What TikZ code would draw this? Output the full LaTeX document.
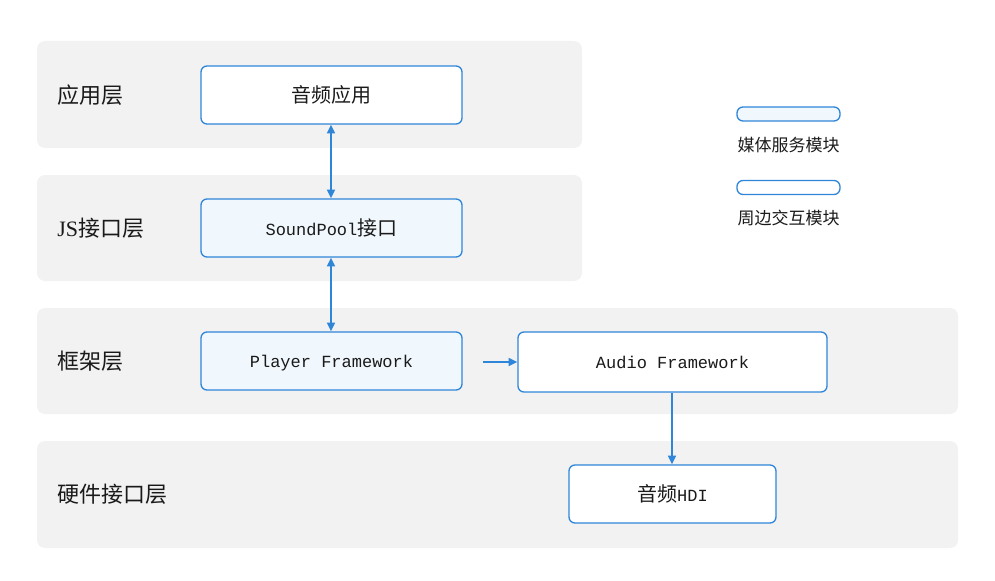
\documentclass[tikz,border=0pt]{standalone}
\usepackage{fontspec}
\setmainfont{Liberation Serif}
\newfontfamily\cjk{Noto Sans CJK SC}
\newfontfamily\mono{Liberation Mono}
\usetikzlibrary{arrows.meta}
\definecolor{bandgray}{HTML}{F2F2F2}
\definecolor{lineblue}{HTML}{2F86D9}
\definecolor{paleblue}{HTML}{F0F7FD}
\definecolor{txt}{HTML}{1A1A1A}
\newcommand{\nodetxt}[2]{{\fontsize{12.75}{15}\mono #1}{\fontsize{15}{18}\cjk #2}}
\tikzset{
  band/.style={fill=bandgray, rounded corners=6pt},
  layerlabel/.style={anchor=west, inner sep=0pt, text=txt, font=\fontsize{16.5}{20}\selectfont},
  modbox/.style={draw=lineblue, line width=1pt, rounded corners=4.5pt, inner sep=0pt, text=txt},
  media/.style={modbox, fill=paleblue},
  periph/.style={modbox, fill=white},
  monotxt/.style={text height=10pt, text depth=1pt},
  legendtxt/.style={inner sep=0pt, text=txt, font=\fontsize{12.75}{15}\cjk},
  conn/.style={draw=lineblue, line width=1.2pt, -{Triangle[length=6.5pt,width=6pt]}},
  biconn/.style={draw=lineblue, line width=1.2pt, {Triangle[length=6.5pt,width=6pt]}-{Triangle[length=6.5pt,width=6pt]}}
}
\begin{document}
\begin{tikzpicture}[x=0.75pt, y=-0.75pt]
\useasboundingbox (0,0) rectangle (995,581);
% layer bands
\fill[band] (37,41) rectangle (582,148);
\fill[band] (37,175) rectangle (582,281);
\fill[band] (37,308) rectangle (958,414);
\fill[band] (37,441) rectangle (958,548);
% layer labels
\node[layerlabel] (l1) at (57,95) {\cjk 应用层};
\node[layerlabel] (l2) at (57,228) {JS{\cjk 接口层}};
\node[layerlabel] (l3) at (57,361) {\cjk 框架层};
\node[layerlabel] (l4) at (57,494) {\cjk 硬件接口层};
% modules
\node[periph, minimum width=195.75pt, minimum height=43.5pt] (app) at (331.5,95) {\nodetxt{}{音频应用}};
\node[media, minimum width=195.75pt, minimum height=43.5pt] (sp) at (331.5,228) {\nodetxt{SoundPool}{接口}};
\node[media, monotxt, minimum width=195.75pt, minimum height=43.5pt] (pf) at (331.5,361) {\nodetxt{Player Framework}{}};
\node[periph, monotxt, minimum width=231.75pt, minimum height=45pt] (af) at (672.5,362) {\nodetxt{Audio Framework}{}};
\node[periph, minimum width=155.25pt, minimum height=43.5pt] (hdi) at (672.5,494) {{\fontsize{15}{18}\cjk 音频}{\fontsize{12.75}{15}\mono HDI}};
% legend
\node[media, minimum width=77.25pt, minimum height=10.5pt] (lg1) at (788.5,114) {};
\node[legendtxt] (lg1t) at (788.5,145) {媒体服务模块};
\node[periph, minimum width=77.25pt, minimum height=10.5pt] (lg2) at (788.5,187.5) {};
\node[legendtxt] (lg2t) at (788.5,218) {周边交互模块};
% connectors (shifted half a pixel to sit on whole pixels)
\draw[biconn] ([xshift=-0.375pt]app.south) -- ([xshift=-0.375pt]sp.north);
\draw[biconn] ([xshift=-0.375pt]sp.south) -- ([xshift=-0.375pt]pf.north);
\coordinate (pfout) at (483,362);
\draw[conn] (pfout) -- (af.west);
\draw[conn] ([xshift=-0.375pt]af.south) -- ([xshift=-0.375pt]hdi.north);
\end{tikzpicture}
\end{document}
